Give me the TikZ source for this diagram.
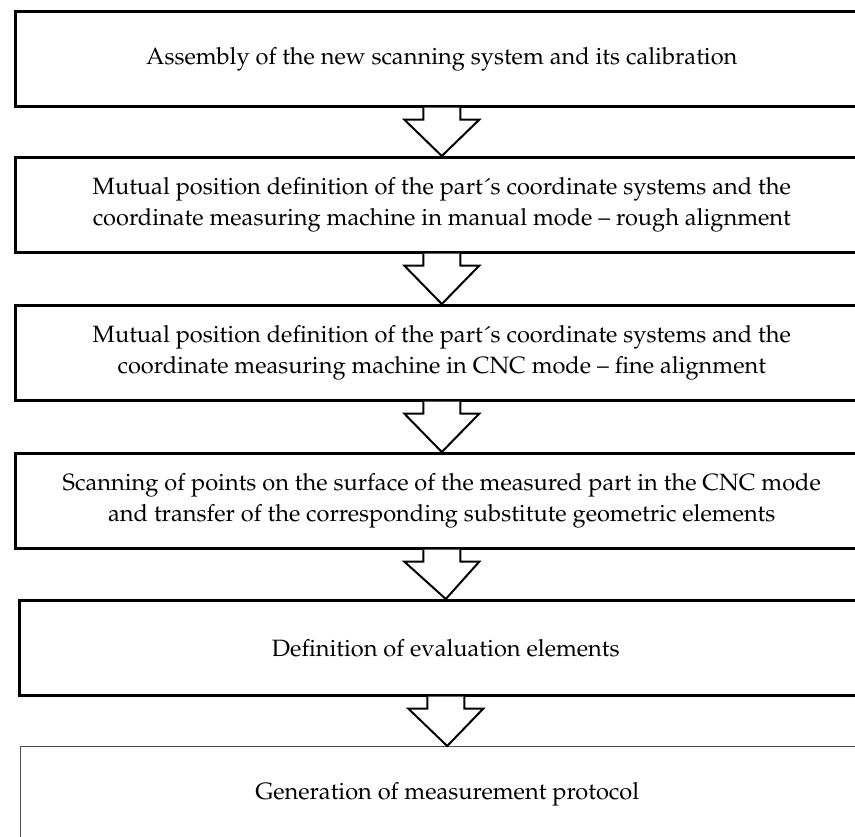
\documentclass[tikz,border=0pt]{standalone}
\usepackage[T1]{fontenc}
\usepackage{mathpazo}
\usetikzlibrary{calc}
\begin{document}
\begin{tikzpicture}[x=0.5pt,y=-0.5pt,
  stage/.style={draw=black, line width=1.3pt, fill=white, rectangle, anchor=north west,
    minimum width=426.5pt, minimum height=47.5pt, inner sep=0pt, align=center,
    font=\fontsize{11.8}{15.5}\selectfont},
  laststage/.style={stage, draw=black!70, line width=0.7pt},
  blockarrow/.style={draw=black, line width=1pt, fill=white, line join=miter}]
\useasboundingbox (0,0) rectangle (855,836);
\clip (0,0) rectangle (855,836);
\fill[white] (0,0) rectangle (855,836);
\node[stage] (b1) at (14,10) {Assembly of the new scanning system and its calibration};
\node[stage] (b2) at (14,156) {Mutual position definition of the part\'{}s coordinate systems and the\\coordinate measuring machine in manual mode -- rough alignment};
\node[stage] (b3) at (14,304) {Mutual position definition of the part\'{}s coordinate systems and the\\coordinate measuring machine in CNC mode -- fine alignment};
\node[stage] (b4) at (14,452) {Scanning of points on the surface of the measured part in the CNC mode\\and transfer of the corresponding substitute geometric elements};
\node[stage] (b5) at (18,599) {Definition of evaluation elements};
\node[laststage] (b6) at (20,746) {Generation of measurement protocol};
\foreach \a/\b in {b1/b2,b2/b3,b3/b4,b4/b5,b5/b6}{
  \draw[blockarrow] ($(\a.south)+(-18.5,0)$) -- ++(0,12) -- ++(-19,0) -- (\b.north)
    -- ($(\a.south)+(37.5,12)$) -- ++(-19,0) -- ($(\a.south)+(18.5,0)$);
}
\end{tikzpicture}
\end{document}
